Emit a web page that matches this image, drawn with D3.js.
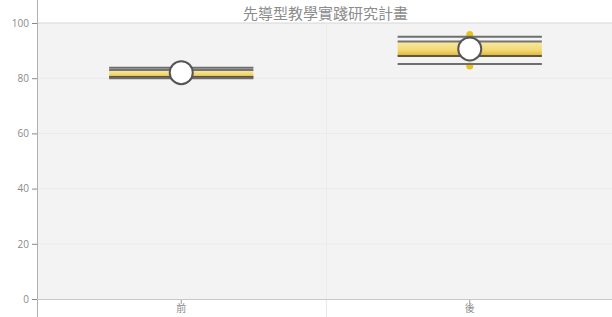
<!DOCTYPE html>
<html>
<head>
<meta charset="utf-8">
<script src="https://cdn.jsdelivr.net/npm/d3@7"></script>
<style>
  body { margin: 0; background: #fff; }
  text { font-family: "Noto Sans CJK TC", "Noto Sans", sans-serif; }
</style>
</head>
<body>
<div id="viz"></div>
<script>
    // data
    var categories = ['前', '後'];
    var maxVals  = [83.8, 95.0];
    var q3Vals   = [83.0, 93.3];
    var q1Vals   = [80.4, 88.0];
    var minVals  = [80.0, 85.1];
    var meanVals = [82.0, 90.6];
    var dotHigh  = [null, 95.8];
    var dotLow   = [null, 84.4];
    var yTicks   = [0, 20, 40, 60, 80, 100];

    var width = 612;
    var height = 317;

    var margin = {
        top: 23,
        bottom: 18,
        left: 37,
        right: -2
    }

    var innerWidth = width - margin.left - margin.right
    var innerHeight = height - margin.top - margin.bottom

    var data = categories.map(function(c, i) {
        return {
            cat: c,
            max: maxVals[i],
            q3: q3Vals[i],
            q1: q1Vals[i],
            min: minVals[i],
            mean: meanVals[i],
            hi: dotHigh[i],
            lo: dotLow[i]
        }
    })

    var svg = d3.select("#viz")
                .append("svg")
                .attr("width", width)
                .attr("height", height);

    var defs = svg.append('defs')
    var grad = defs.append('linearGradient')
        .attr('id', 'boxGrad')
        .attr('x1', 0).attr('y1', 0)
        .attr('x2', 0).attr('y2', 1)
    grad.append('stop').attr('offset', '0%').attr('stop-color', '#f8eaa8')
    grad.append('stop').attr('offset', '60%').attr('stop-color', '#f2d870')
    grad.append('stop').attr('offset', '100%').attr('stop-color', '#dcb236')

    var g = svg
        .append('g')
        .attr('transform', 'translate(' + margin.left + ', ' + margin.top + ')');

    var xScale = d3.scaleBand()
                    .domain(categories)
                    .range([0, innerWidth])
                    .paddingInner(0)
                    .paddingOuter(0)

    var yScale = d3.scaleLinear()
                    .domain([0, 100])
                    .range([innerHeight, 0])

    // plot background
    g.append('rect')
        .attr('x', 0)
        .attr('y', 0)
        .attr('width', innerWidth)
        .attr('height', innerHeight)
        .attr('fill', '#f3f3f3')

    // grid lines
    g.selectAll('.grid')
        .data(yTicks.filter(function(d) { return d > 0 }))
        .enter()
        .append('line')
        .attr('class', 'grid')
        .attr('x1', 0)
        .attr('x2', innerWidth)
        .attr('y1', function(d) { return yScale(d) })
        .attr('y2', function(d) { return yScale(d) })
        .attr('stroke', function(d) { return d === 100 ? '#d6d6d6' : '#eaeaea' })
        .attr('stroke-width', 1)

    // band separators
    g.selectAll('.sep')
        .data(categories.slice(1))
        .enter()
        .append('line')
        .attr('class', 'sep')
        .attr('x1', function(d) { return Math.round(xScale(d)) + 0.5 })
        .attr('x2', function(d) { return Math.round(xScale(d)) + 0.5 })
        .attr('y1', 0)
        .attr('y2', innerHeight + margin.bottom)
        .attr('stroke', '#ebebeb')

    // y axis
    var yAxis = d3.axisLeft(yScale).tickValues(yTicks).tickSize(5).tickPadding(3);
    var yAxisG = g.append('g')
        .attr('class', 'y-axis')
        .call(yAxis)
    yAxisG.select('.domain').remove()
    yAxisG.append('line')
        .attr('x1', 0.5).attr('x2', 0.5)
        .attr('y1', -margin.top).attr('y2', innerHeight + margin.bottom)
        .attr('stroke', '#b0b0b0')
    yAxisG.selectAll('.tick line').attr('stroke', '#888')
    yAxisG.selectAll('text')
        .attr('fill', '#8a8a8a')
        .style('font-size', '10px')
        .style('font-family', '"Open Sans", sans-serif')

    // x axis
    var xAxis = d3.axisBottom(xScale).tickSize(5).tickPadding(1);
    var xAxisG = g.append('g')
        .attr('class', 'x-axis')
        .attr('transform', 'translate(0,' + innerHeight + ')')
        .call(xAxis)
    xAxisG.select('.domain').remove()
    xAxisG.append('line')
        .attr('x1', 0).attr('x2', innerWidth)
        .attr('y1', 0.5).attr('y2', 0.5)
        .attr('stroke', '#c8c8c8')
    xAxisG.selectAll('.tick line').attr('stroke', '#999')
    xAxisG.selectAll('text')
        .attr('fill', '#8a8a8a')
        .style('font-size', '10px')

    var boxW = xScale.bandwidth() * 0.5

    var boxes = g.selectAll('.box')
        .data(data)
        .enter()
        .append('g')
        .attr('class', 'box')
        .attr('transform', function(d) {
            return 'translate(' + (xScale(d.cat) + xScale.bandwidth() / 2) + ',0)'
        })

    // yellow dots (extremes)
    boxes.filter(function(d) { return d.hi != null })
        .selectAll('.dot')
        .data(function(d) { return [d.hi, d.lo] })
        .enter()
        .append('circle')
        .attr('class', 'dot')
        .attr('cx', 0)
        .attr('cy', function(v) { return yScale(v) })
        .attr('r', 3.5)
        .attr('fill', '#e8c21a')

    // box q1-q3
    boxes.append('rect')
        .attr('x', -boxW / 2)
        .attr('y', function(d) { return yScale(d.q3) })
        .attr('width', boxW)
        .attr('height', function(d) { return yScale(d.q1) - yScale(d.q3) })
        .attr('fill', 'url(#boxGrad)')

    // whisker and quartile lines
    var lineDefs = [
        { key: 'max', color: '#6e6e6e' },
        { key: 'q3', color: '#747474' },
        { key: 'q1', color: '#5c5644' },
        { key: 'min', color: '#6e6e6e' }
    ]
    lineDefs.forEach(function(ld) {
        boxes.append('line')
            .attr('x1', -boxW / 2)
            .attr('x2', boxW / 2)
            .attr('y1', function(d) { return yScale(d[ld.key]) })
            .attr('y2', function(d) { return yScale(d[ld.key]) })
            .attr('stroke', ld.color)
            .attr('stroke-width', 2)
    })

    // mean circle
    boxes.append('circle')
        .attr('cx', 0)
        .attr('cy', function(d) { return yScale(d.mean) })
        .attr('r', 11.5)
        .attr('fill', '#fff')
        .attr('stroke', '#555')
        .attr('stroke-width', 2)

    // title
    g
        .append('text')
        .attr('class', 'title')
        .attr('x', innerWidth / 2)
        .attr('y', -4)
        .attr('text-anchor', 'middle')
        .attr('fill', '#8c8c8c')
        .style('font-size', '15px')
        .text('先導型教學實踐研究計畫');
</script>
</body>
</html>
